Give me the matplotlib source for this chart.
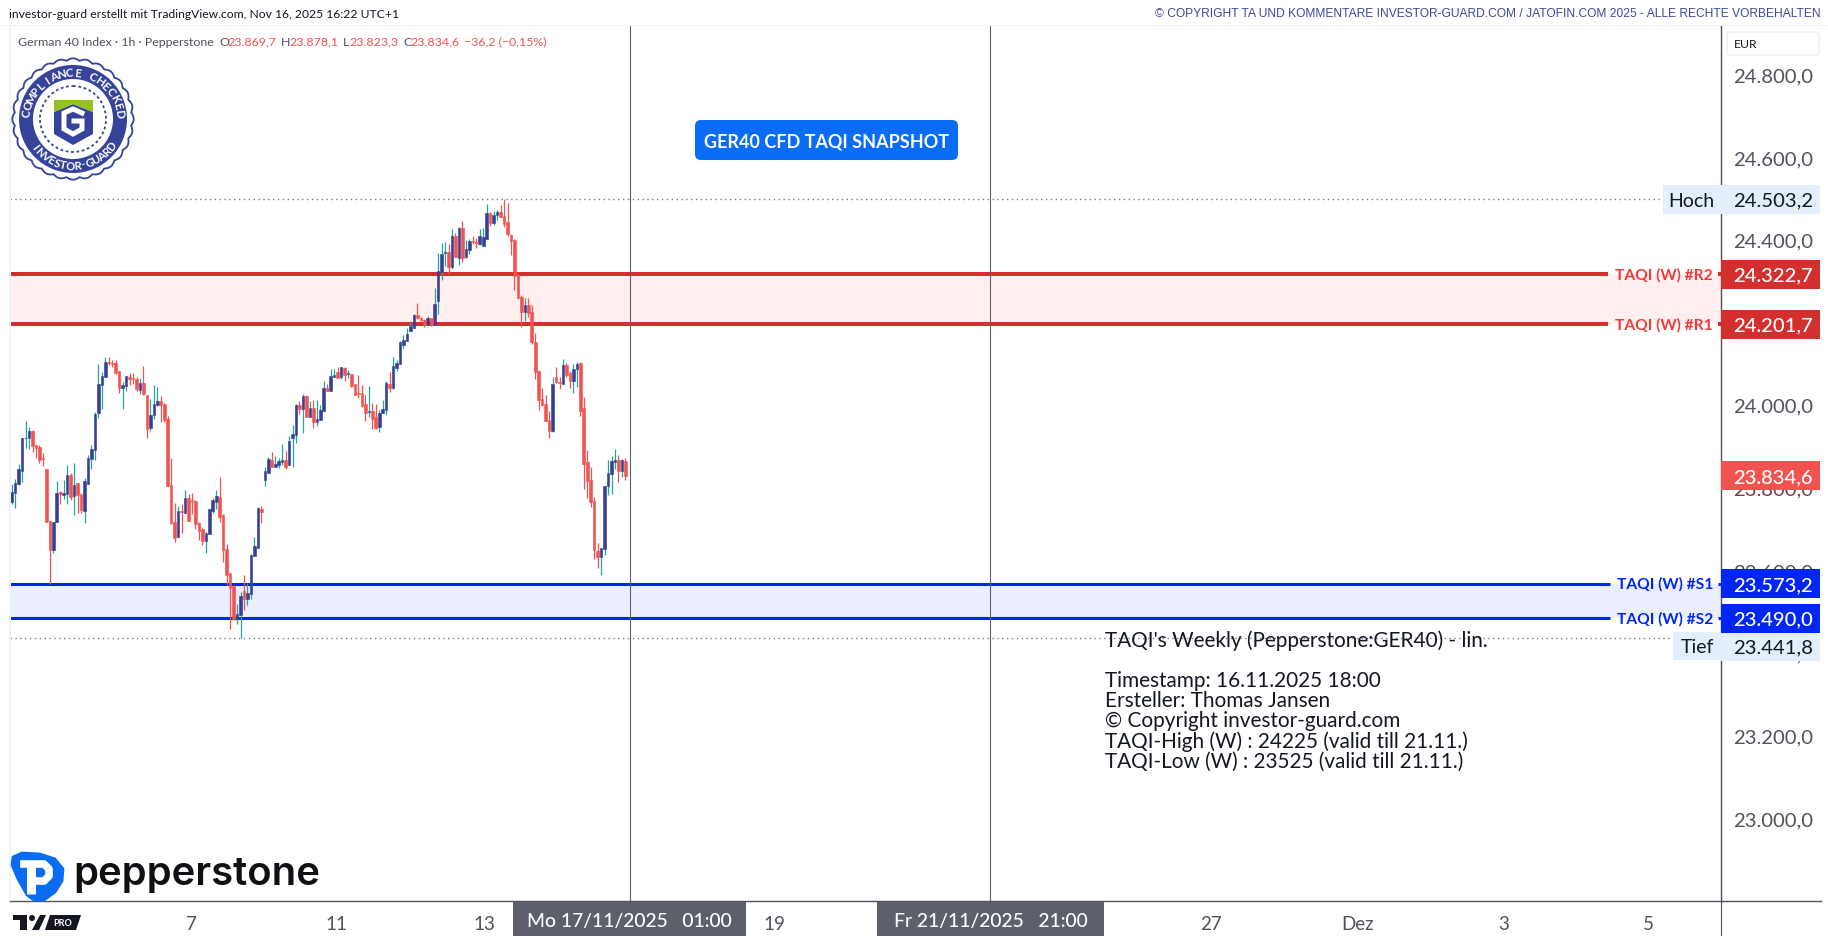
import numpy as np
import matplotlib
matplotlib.use("Agg")
import matplotlib.pyplot as plt
from matplotlib.patches import Rectangle, Polygon, Circle, FancyBboxPatch
from matplotlib.transforms import ScaledTranslation

plt.rcParams['font.family'] = ['Lato', 'DejaVu Sans']

W, H = 1828, 937
PANE_L, PANE_R, PANE_T, PANE_B = 10, 1721, 27, 902

# hourly candles
opens = [23770,23793,23815,23846,23926,23927,23943,23909,23904,23877,
         23851,23724,23656,23723,23794,23789,23790,23836,23786,23817,
         23790,23749,23815,23875,23897,23986,24054,24073,24110,24107,
         24107,24088,24047,24052,24073,24071,24069,24042,24059,24030,
         23950,23981,24006,24015,24008,23972,23812,23722,23686,23749,
         23744,23781,23775,23773,23719,23706,23677,23694,23749,23771,
         23783,23739,23657,23599,23568,23490,23497,23556,23536,23548,
         23640,23660,23754,23824,23841,23873,23856,23860,23868,23873,
         23860,23926,23933,24006,23996,24027,23977,23998,23964,23969,
         23991,24047,24040,24073,24086,24073,24095,24081,24081,24056,
         24035,24035,24008,23989,23991,23977,23952,23986,23994,24056,
         24047,24095,24105,24151,24161,24185,24192,24223,24216,24211,
         24202,24216,24199,24257,24328,24374,24376,24340,24415,24361,
         24434,24364,24381,24403,24400,24395,24390,24407,24470,24446,
         24465,24473,24463,24449,24417,24405,24321,24267,24231,24248,
         24231,24158,24088,24020,24008,23969,23943,24073,24061,24056,
         24102,24083,24064,24093,24107,23998,23868,23824,23773,23652,
         23638,23657,23810,23839,23868,23873,23846,23869.7]
highs = [23815,23827,23863,23926,23966,23952,23945,23910,23909,23890,
         23851,23726,23723,23822,23797,23824,23861,23840,23865,23818,
         23790,23829,23885,23910,23988,24105,24086,24122,24122,24114,
         24114,24088,24061,24076,24083,24083,24073,24071,24100,24030,
         24020,24054,24049,24027,24010,23978,23877,23768,23761,23766,
         23800,23790,23793,23775,23722,23708,23699,23754,23781,23800,
         23831,23742,23669,23599,23570,23524,23552,23594,23576,23645,
         23686,23759,23761,23856,23880,23892,23882,23877,23911,23894,
         23931,23957,24008,24015,24032,24030,24015,24018,24018,24006,
         24064,24056,24093,24093,24098,24098,24098,24090,24081,24056,
         24078,24054,24030,24052,24010,24008,23994,24018,24064,24086,
         24122,24115,24161,24175,24192,24209,24226,24253,24219,24214,
         24221,24216,24289,24374,24398,24400,24395,24432,24422,24436,
         24451,24405,24407,24415,24410,24432,24434,24492,24473,24475,
         24478,24490,24503.2,24495,24420,24407,24323,24272,24265,24265,
         24248,24180,24090,24047,24030,23991,24073,24098,24073,24117,
         24107,24088,24105,24110,24110,24025,23897,23856,23783,23672,
         23660,23810,23873,23882,23899,23885,23875,23878.1]
lows = [23766,23756,23811,23820,23902,23899,23893,23878,23866,23859,
        23723,23572,23648,23723,23766,23778,23766,23777,23740,23744,
        23744,23721,23815,23851,23873,23974,23996,24073,24103,24098,
        24081,24035,23996,24040,24054,24056,24040,24032,24030,23926,
        23943,23972,24003,23964,23964,23810,23717,23674,23686,23697,
        23744,23725,23742,23706,23679,23667,23647,23694,23744,23754,
        23722,23626,23570,23464,23485,23476,23441.8,23510,23522,23536,
        23640,23660,23720,23810,23841,23856,23856,23853,23860,23851,
        23860,23856,23914,23984,23938,23977,23977,23950,23955,23969,
        23991,24040,24040,24073,24071,24069,24064,24071,24049,24030,
        24023,24001,23967,23977,23948,23948,23940,23986,23981,24037,
        24044,24088,24105,24144,24161,24185,24192,24214,24209,24194,
        24202,24197,24199,24226,24308,24342,24323,24335,24364,24344,
        24352,24361,24371,24395,24386,24393,24390,24407,24439,24441,
        24453,24461,24436,24415,24369,24284,24265,24194,24209,24219,
        24153,24069,23994,24003,23967,23926,23940,24059,24044,24056,
        24073,24047,24035,24049,23979,23802,23781,23759,23633,23611,
        23594,23643,23788,23790,23851,23819,23831,23823.3]
closes = [23795,23818,23851,23926,23927,23943,23907,23902,23873,23876,
          23723,23656,23722,23793,23791,23793,23836,23784,23812,23788,
          23752,23822,23877,23899,23984,24056,24076,24110,24108,24106,
          24083,24047,24054,24076,24069,24069,24044,24059,24032,23948,
          23981,24008,24015,24006,23969,23810,23719,23684,23749,23747,
          23781,23725,23771,23718,23701,23677,23696,23754,23776,23785,
          23735,23655,23594,23563,23488,23500,23543,23536,23551,23643,
          23664,23756,23747,23846,23875,23856,23863,23870,23873,23856,
          23919,23935,24006,23996,24027,23977,23998,23964,23972,23994,
          24047,24040,24076,24078,24071,24098,24078,24083,24052,24030,
          24032,24003,23986,23991,23972,23950,23986,23996,24059,24047,
          24100,24107,24158,24163,24178,24197,24223,24216,24211,24199,
          24216,24199,24250,24330,24371,24376,24340,24415,24364,24434,
          24361,24383,24403,24400,24398,24415,24412,24470,24446,24465,
          24473,24461,24444,24420,24403,24318,24265,24231,24248,24228,
          24158,24086,24018,24006,23967,23943,24056,24061,24059,24102,
          24078,24064,24093,24105,23991,23863,23822,23771,23655,23638,
          23660,23810,23841,23870,23873,23846,23873,23834.6]

price_ticks = [23000, 23200, 23400, 23600, 23800, 24000, 24200, 24400, 24600, 24800]
time_ticks = [51.7, 93.8, 136.2, 220.1, 345.9, 388.3, 430.2, 472.1]
time_labels = ['7', '11', '13', '19', '27', 'Dez', '3', '5']
cross_x = [178.2, 282.3]

r2, r1, s1, s2 = 24322.7, 24201.7, 23573.2, 23490.0
high_p, low_p, last_p = 24503.2, 23441.8, 23834.6

note_lines = ["TAQI's Weekly (Pepperstone:GER40) - lin.", "",
              "Timestamp: 16.11.2025 18:00", "Ersteller: Thomas Jansen",
              "© Copyright investor-guard.com",
              "TAQI-High (W) : 24225 (valid till 21.11.)",
              "TAQI-Low (W) : 23525 (valid till 21.11.)"]

GREY = '#50535e'
UP, UP_WICK, DOWN = '#363f94', '#26a69a', '#f05350'
RED, BLUE = '#d32f2f', '#0026f5'
NAVY = '#36439a'
PRICE_FS = 14.6


def fx(px):
    # pixel column to axes fraction
    return (px - PANE_L) / (PANE_R - PANE_L)


def fmt(p):
    return f'{p:,.1f}'.replace(',', 'X').replace('.', ',').replace('X', '.')


fig = plt.figure(figsize=(W / 100, H / 100), dpi=100, facecolor='white')
ax = fig.add_axes([PANE_L / W, 1 - PANE_B / H, (PANE_R - PANE_L) / W, (PANE_B - PANE_T) / H])
ax.set_xlim(-0.49, 493.0)
ax.set_ylim(22805.4, 24922.9)

# bands and levels
ytr = ax.get_yaxis_transform()
ax.axhspan(r1, r2, color='#fff0ef', lw=0, zorder=1)
ax.axhspan(s2, s1, color='#ebeefc', lw=0, zorder=1)
for lvl, col, lw, stop in [(r2, RED, 2.9, 1608), (r1, RED, 2.9, 1608), (s1, BLUE, 2.2, 1610), (s2, BLUE, 2.2, 1610)]:
    ax.plot([0, fx(stop)], [lvl, lvl], color=col, lw=lw, transform=ytr, solid_capstyle='butt', zorder=2)
    ax.plot([fx(1718), 1], [lvl, lvl], color=col, lw=lw, transform=ytr, solid_capstyle='butt', zorder=2)
for lvl, stop in [(high_p, 1660), (low_p, 1671)]:
    ax.plot([0, fx(stop)], [lvl, lvl], color='#787b86', lw=1, ls=(0, (1, 2.5)), transform=ytr, zorder=2)

# candles
xs = np.arange(len(opens))
o, h, l, c = map(np.array, (opens, highs, lows, closes))
up = c >= o
ax.vlines(xs[up], l[up], h[up], color=UP_WICK, lw=0.9, zorder=3)
ax.vlines(xs[~up], l[~up], h[~up], color=DOWN, lw=0.9, zorder=3)
bottoms = np.minimum(o, c)
heights = np.abs(c - o)
ax.bar(xs[up], heights[up], bottom=bottoms[up], width=0.75, color=UP, edgecolor=UP, lw=0.4, zorder=4)
ax.bar(xs[~up], heights[~up], bottom=bottoms[~up], width=0.75, color=DOWN, edgecolor=DOWN, lw=0.4, zorder=4)

for x in cross_x:
    ax.axvline(x, color='#5d606b', lw=0.8, zorder=5)

# axes
ax.spines['top'].set_visible(False)
ax.spines['left'].set_visible(False)
for s in ('right', 'bottom'):
    ax.spines[s].set_color(GREY)
    ax.spines[s].set_linewidth(1)
ax.yaxis.tick_right()
ax.set_yticks(price_ticks)
ax.set_yticklabels([fmt(p) for p in price_ticks])
ax.tick_params(axis='y', length=0, pad=8.5, labelsize=PRICE_FS, labelcolor=GREY)
up2 = ScaledTranslation(0, 2.5 / 100, fig.dpi_scale_trans)
for lbl in ax.get_yticklabels():
    lbl.set_transform(lbl.get_transform() + up2)
ax.set_xticks(time_ticks)
ax.set_xticklabels(time_labels)
ax.tick_params(axis='x', length=0, pad=10, labelsize=13.5, labelcolor=GREY)


def price_box(y_center, text, face, fg='white', weight='medium'):
    hgt = 29 * 2.42
    ax.add_patch(Rectangle((1.0, y_center - hgt / 2), 99 / (PANE_R - PANE_L), hgt, transform=ytr,
                           facecolor=face, edgecolor='none', clip_on=False, zorder=10))
    ax.text(fx(1773), y_center - 2, text, transform=ytr, ha='center', va='center', color=fg,
            fontsize=PRICE_FS, fontweight=weight, clip_on=False, zorder=11)


tief_y = low_p - 8 * 2.42
# name tags left of the price scale
for y, name, x0, xc in [(high_p, 'Hoch', 1663, 1691), (tief_y, 'Tief', 1673, 1697)]:
    ax.add_patch(Rectangle((fx(x0), y - 35), fx(PANE_R) - fx(x0), 70, transform=ytr, facecolor='#e3effd',
                           edgecolor='none', clip_on=False, zorder=9))
    ax.text(fx(xc), y - 2, name, transform=ytr, ha='center', va='center', fontsize=14, color='#131722', zorder=11)
price_box(high_p, fmt(high_p), '#e3effd', '#131722', 'normal')
price_box(tief_y, fmt(low_p), '#e3effd', '#131722', 'normal')
price_box(last_p, fmt(last_p), DOWN)
for lvl, tag, col, txtcol in [(r2, 'TAQI (W) #R2', RED, '#f23a35'), (r1, 'TAQI (W) #R1', RED, '#f23a35'),
                              (s1, 'TAQI (W) #S1', BLUE, BLUE), (s2, 'TAQI (W) #S2', BLUE, BLUE)]:
    price_box(lvl, fmt(lvl), col)
    ax.text(fx(1713), lvl, tag, transform=ytr, ha='right', va='center', color=txtcol, fontsize=11.2,
            fontweight='bold', zorder=11)

# overlay in pixel coordinates for header, badges and logos
ov = fig.add_axes([0, 0, 1, 1], zorder=6)
ov.set_xlim(0, W)
ov.set_ylim(H, 0)
ov.axis('off')
ov.patch.set_alpha(0)

ov.add_patch(Rectangle((0, 26), W, 1, color='#f0f3fa', lw=0))
ov.add_patch(Rectangle((9, 27), 1.5, 875, color='#f0f3fa', lw=0))
ov.plot([PANE_R, PANE_R], [PANE_B, H], color=GREY, lw=0.8)
ov.plot([PANE_R, 1821], [PANE_B, PANE_B], color=GREY, lw=1)

ov.text(9, 15, 'investor-guard erstellt mit TradingView.com, Nov 16, 2025 16:22 UTC+1', fontsize=8.7,
        color='#131722', va='center')
ov.text(1821, 14, '© COPYRIGHT TA UND KOMMENTARE INVESTOR-GUARD.COM / JATOFIN.COM 2025 - ALLE RECHTE VORBEHALTEN',
        fontsize=8.66, color='#3b4a9b', va='center', ha='right', family=['Liberation Sans'])

# legend row
ov.text(18, 42, 'German 40 Index · 1h · Pepperstone', fontsize=8.9, color=GREY, va='center')
for x, s, col in [(219, 'O', GREY), (227, '23.869,7', DOWN), (281, 'H', GREY), (289, '23.878,1', DOWN),
                  (343, 'L', GREY), (349, '23.823,3', DOWN), (403, 'C', GREY), (410, '23.834,6', DOWN),
                  (464, '−36,2 (−0,15%)', DOWN)]:
    ov.text(x, 42, s, fontsize=8.9, color=col, va='center')

# EUR box
ov.add_patch(FancyBboxPatch((1727, 33), 92, 23, boxstyle='round,pad=0,rounding_size=3', facecolor='white',
                            edgecolor='#eceef3', lw=1))
ov.text(1734, 44.5, 'EUR', fontsize=8.8, color='#131722', va='center')

# blue snapshot button
ov.add_patch(FancyBboxPatch((695, 121), 263, 40, boxstyle='round,pad=0,rounding_size=6', facecolor='#0a6cf5',
                            edgecolor='none'))
ov.text(826.5, 141.5, 'GER40 CFD TAQI SNAPSHOT', color='white', fontsize=12.95, fontweight='bold', ha='center',
        va='center')

# note text
note_y = [641, 661, 681.5, 701.5, 721.5, 741.5, 761.5]
for y, line in zip(note_y, note_lines):
    if line:
        ov.text(1105, y, line, fontsize=14.95, color='#131722', va='center')

# crosshair date labels
for x0, x1, label in [(513, 746, 'Mo 17/11/2025   01:00'), (877, 1104, 'Fr 21/11/2025   21:00')]:
    ov.add_patch(Rectangle((x0, 903), x1 - x0, 34, color='#5d606b', lw=0))
    ov.text((x0 + x1) / 2, 922, label, color='white', fontsize=13.9, fontweight='medium', ha='center', va='center')

# compliance seal
cx, cy = 73, 120
th = np.linspace(0, 2 * np.pi, 720)
rad = 58.5 + 2.2 * np.abs(np.cos(14 * th))
ov.add_patch(Polygon(np.c_[cx + rad * np.cos(th), cy + rad * np.sin(th)], facecolor='white', edgecolor=NAVY, lw=1.3))
ov.add_patch(Circle((cx, cy), 54, color=NAVY, lw=0))
ov.add_patch(Circle((cx, cy), 40, color='white', lw=0))
ov.add_patch(Circle((cx, cy), 33, fill=False, edgecolor=NAVY, lw=1.3, ls=(0, (1.5, 1.5))))
for i, ch in enumerate('COMPLIANCE CHECKED'):
    a = np.radians(172 - i * 9.7)
    ov.text(cx + 46.5 * np.cos(a), cy - 46.5 * np.sin(a), ch, color='white', fontsize=8.3, fontweight='bold',
            rotation=np.degrees(a) - 90, ha='center', va='center', rotation_mode='anchor')
for i, ch in enumerate('INVESTOR-GUARD'):
    a = np.radians(216 + i * 8.4)
    ov.text(cx + 46.5 * np.cos(a), cy - 46.5 * np.sin(a), ch, color='white', fontsize=8.0, fontweight='bold',
            rotation=np.degrees(a) + 90, ha='center', va='center', rotation_mode='anchor')
ov.add_patch(Polygon([(54, 113), (73, 105), (93, 113), (93, 135), (73, 146), (54, 135)], color=NAVY, lw=0))
ov.add_patch(Polygon([(54, 101), (93, 101), (93, 113), (73, 105), (54, 113)], color='#95c11f', lw=0))
ov.plot([82, 73, 64, 64, 73, 82, 82, 74], [114, 110, 114, 130, 135, 130, 122, 122], color='white', lw=3.6,
        solid_joinstyle='miter')

# pepperstone logo
ov.add_patch(Polygon([(13, 858), (22, 854), (40, 855), (55, 860), (63, 870), (62, 882), (55, 893), (44, 901),
                      (34, 901), (27, 896), (18, 880), (12, 866)], facecolor='#0a6cf5', edgecolor='#0a6cf5',
                     lw=2, joinstyle='round'))
ov.plot([31, 31], [863, 895], color='white', lw=6.5, solid_capstyle='butt')
ov.plot([24, 44, 49, 49, 44, 31], [865, 865, 870, 877, 882, 882], color='white', lw=5.5, solid_joinstyle='round')
ov.text(73, 875, 'pepperstone', fontsize=28.8, fontweight='semibold', family=['Inter'], color='#0f0f14', va='center')

# tradingview mark
ov.add_patch(Polygon([(13, 916), (27, 916), (27, 931), (20, 931), (20, 921), (13, 921)], color='#131722', lw=0))
ov.add_patch(Circle((32, 919), 3, color='#131722', lw=0))
ov.add_patch(Polygon([(40, 916), (46, 916), (39, 931), (32, 931)], color='#131722', lw=0))
ov.add_patch(Polygon([(50, 916), (81, 916), (76, 931), (45, 931)], color='#131722', lw=0))
ov.text(63, 923.5, 'PRO', color='white', fontsize=6.5, fontweight='bold', ha='center', va='center')

fig.savefig('out.png', dpi=100)
